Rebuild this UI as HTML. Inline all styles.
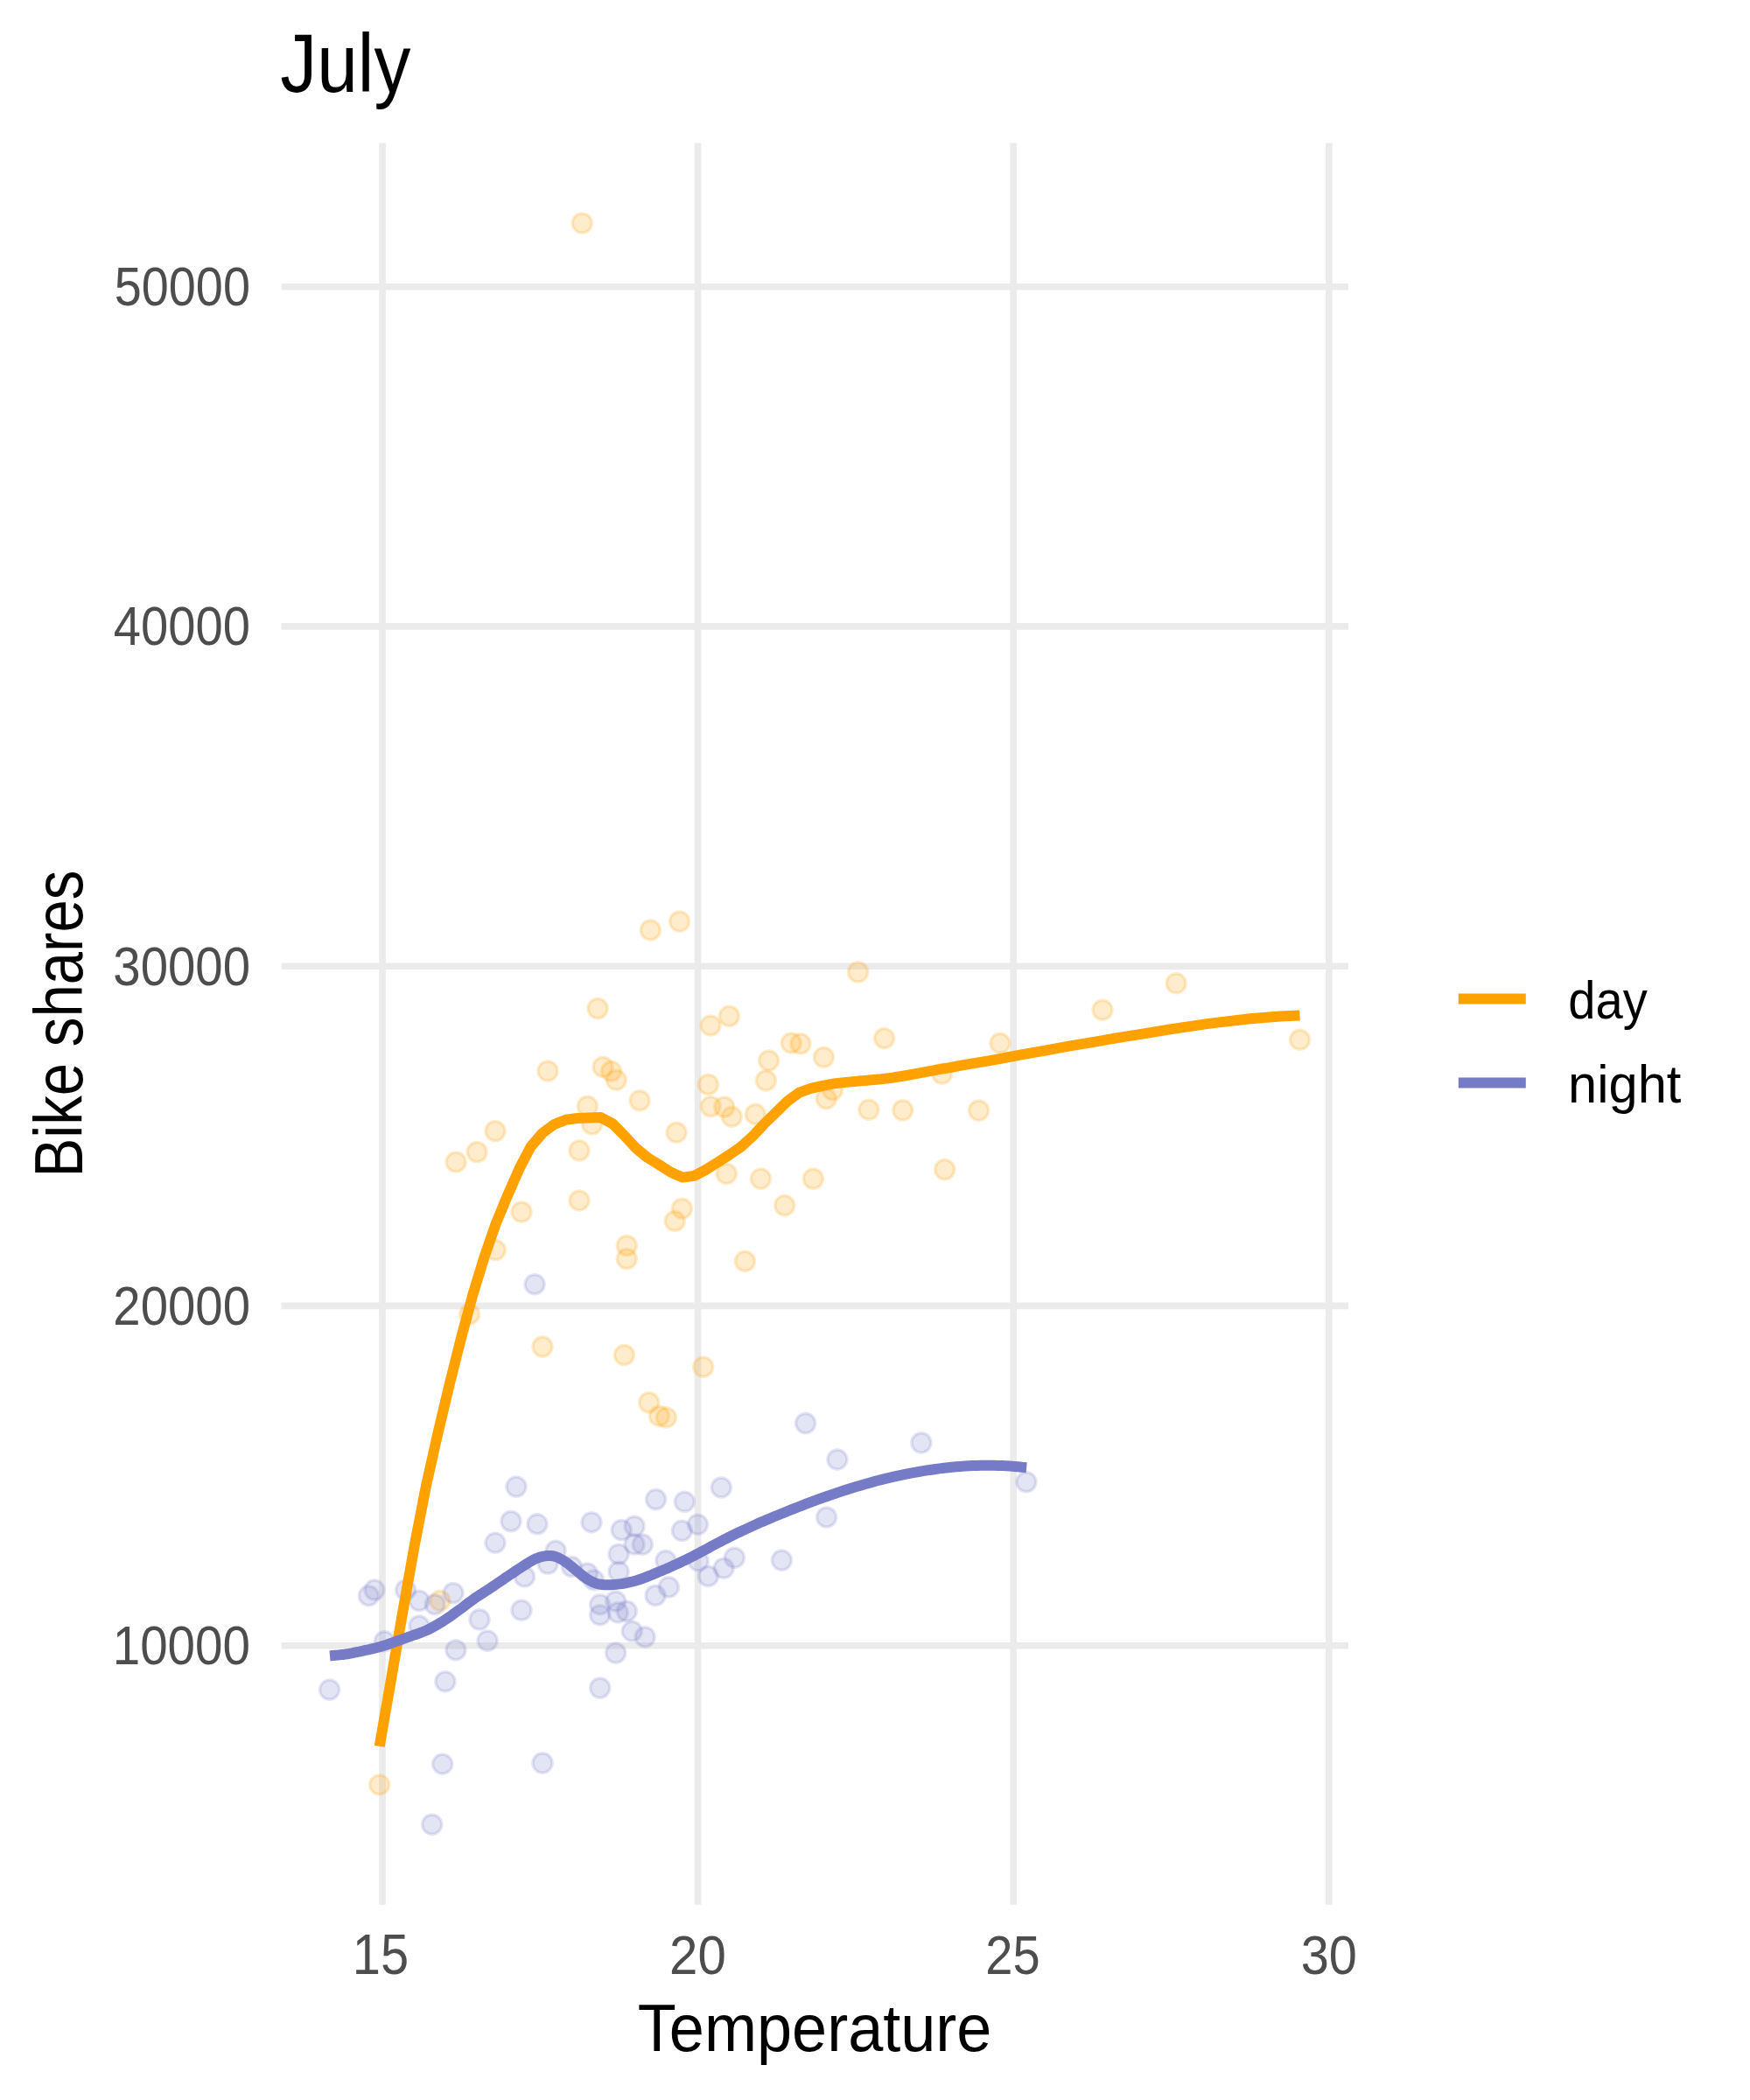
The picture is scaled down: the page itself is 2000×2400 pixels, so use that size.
<!DOCTYPE html>
<html lang="en"><head><meta charset="utf-8"><title>July</title>
<style>html,body{margin:0;padding:0;background:#fff}body{width:2000px;height:2400px;overflow:hidden}svg{display:block}text{font-family:"Liberation Sans",sans-serif}</style></head>
<body>
<svg width="2000" height="2400" viewBox="0 0 2000 2400">
<rect width="2000" height="2400" fill="#fff"/>
<g stroke="#EBEBEB" stroke-width="7.6" fill="none">
<line x1="321.6" x2="1541.0" y1="327.7" y2="327.7"/>
<line x1="321.6" x2="1541.0" y1="715.9" y2="715.9"/>
<line x1="321.6" x2="1541.0" y1="1104.2" y2="1104.2"/>
<line x1="321.6" x2="1541.0" y1="1492.4" y2="1492.4"/>
<line x1="321.6" x2="1541.0" y1="1880.7" y2="1880.7"/>
<line x1="437.0" x2="437.0" y1="163.6" y2="2176.8"/>
<line x1="797.6" x2="797.6" y1="163.6" y2="2176.8"/>
<line x1="1158.2" x2="1158.2" y1="163.6" y2="2176.8"/>
<line x1="1518.8" x2="1518.8" y1="163.6" y2="2176.8"/>
</g>
<g fill="#FFA200" stroke="#FFA200" fill-opacity="0.2" stroke-opacity="0.2" stroke-width="3.5">
<circle cx="743.4" cy="1062.9" r="11.05"/>
<circle cx="776.6" cy="1053.1" r="11.05"/>
<circle cx="683.1" cy="1152.6" r="11.05"/>
<circle cx="812" cy="1172" r="11.05"/>
<circle cx="833.4" cy="1161.4" r="11.05"/>
<circle cx="904.3" cy="1192" r="11.05"/>
<circle cx="626" cy="1224" r="11.05"/>
<circle cx="689.1" cy="1219.4" r="11.05"/>
<circle cx="698.6" cy="1224.3" r="11.05"/>
<circle cx="704.3" cy="1234.3" r="11.05"/>
<circle cx="878.6" cy="1212" r="11.05"/>
<circle cx="875.4" cy="1234.9" r="11.05"/>
<circle cx="809.4" cy="1239.4" r="11.05"/>
<circle cx="731.1" cy="1257.7" r="11.05"/>
<circle cx="671.4" cy="1264.3" r="11.05"/>
<circle cx="812.3" cy="1264.6" r="11.05"/>
<circle cx="827.7" cy="1265.1" r="11.05"/>
<circle cx="836.3" cy="1276.3" r="11.05"/>
<circle cx="863.4" cy="1273.4" r="11.05"/>
<circle cx="676.6" cy="1284.9" r="11.05"/>
<circle cx="566" cy="1292.6" r="11.05"/>
<circle cx="773.1" cy="1294.3" r="11.05"/>
<circle cx="545.1" cy="1316.6" r="11.05"/>
<circle cx="662" cy="1314.9" r="11.05"/>
<circle cx="521.1" cy="1328" r="11.05"/>
<circle cx="830.3" cy="1341.4" r="11.05"/>
<circle cx="869.4" cy="1347.1" r="11.05"/>
<circle cx="662" cy="1372" r="11.05"/>
<circle cx="596" cy="1385.1" r="11.05"/>
<circle cx="779.4" cy="1381.3" r="11.05"/>
<circle cx="771.2" cy="1395.5" r="11.05"/>
<circle cx="896.7" cy="1377.6" r="11.05"/>
<circle cx="566.3" cy="1428.6" r="11.05"/>
<circle cx="716.3" cy="1423.6" r="11.05"/>
<circle cx="716.3" cy="1438.6" r="11.05"/>
<circle cx="536.6" cy="1502" r="11.05"/>
<circle cx="620" cy="1539.1" r="11.05"/>
<circle cx="713.4" cy="1548.6" r="11.05"/>
<circle cx="803.7" cy="1562.2" r="11.05"/>
<circle cx="741.7" cy="1602.9" r="11.05"/>
<circle cx="753.5" cy="1618.3" r="11.05"/>
<circle cx="761.4" cy="1620" r="11.05"/>
<circle cx="502.9" cy="1829.4" r="11.05"/>
<circle cx="433.7" cy="2039.7" r="11.05"/>
<circle cx="980.6" cy="1110.9" r="11.05"/>
<circle cx="1344.2" cy="1123.8" r="11.05"/>
<circle cx="1260" cy="1154.2" r="11.05"/>
<circle cx="1010.6" cy="1186.6" r="11.05"/>
<circle cx="1142.9" cy="1192.3" r="11.05"/>
<circle cx="914.9" cy="1192.9" r="11.05"/>
<circle cx="941.4" cy="1208.3" r="11.05"/>
<circle cx="1076.6" cy="1227.1" r="11.05"/>
<circle cx="951.4" cy="1245.7" r="11.05"/>
<circle cx="944.3" cy="1255.7" r="11.05"/>
<circle cx="992.9" cy="1268.3" r="11.05"/>
<circle cx="1031.7" cy="1268.9" r="11.05"/>
<circle cx="1118.6" cy="1269.1" r="11.05"/>
<circle cx="1079.7" cy="1336.6" r="11.05"/>
<circle cx="929.4" cy="1347.1" r="11.05"/>
<circle cx="851.4" cy="1441.4" r="11.05"/>
<circle cx="1485.5" cy="1188.3" r="11.05"/>
<circle cx="665.3" cy="255" r="11.05"/>
</g>
<g fill="#767BC7" stroke="#767BC7" fill-opacity="0.2" stroke-opacity="0.2" stroke-width="3.5">
<circle cx="611.1" cy="1467.7" r="11.05"/>
<circle cx="590" cy="1699.1" r="11.05"/>
<circle cx="749.6" cy="1713.6" r="11.05"/>
<circle cx="782.4" cy="1716.3" r="11.05"/>
<circle cx="584" cy="1738.6" r="11.05"/>
<circle cx="614" cy="1741.7" r="11.05"/>
<circle cx="676" cy="1739.7" r="11.05"/>
<circle cx="710.3" cy="1748.6" r="11.05"/>
<circle cx="725.1" cy="1744.3" r="11.05"/>
<circle cx="779.4" cy="1749.4" r="11.05"/>
<circle cx="797.5" cy="1742.2" r="11.05"/>
<circle cx="566" cy="1763.2" r="11.05"/>
<circle cx="635.1" cy="1772.3" r="11.05"/>
<circle cx="725.1" cy="1764.9" r="11.05"/>
<circle cx="734.3" cy="1765.1" r="11.05"/>
<circle cx="707.1" cy="1776.2" r="11.05"/>
<circle cx="760.9" cy="1783.5" r="11.05"/>
<circle cx="626.2" cy="1787.1" r="11.05"/>
<circle cx="653.4" cy="1790.5" r="11.05"/>
<circle cx="671.4" cy="1798" r="11.05"/>
<circle cx="707.1" cy="1796.2" r="11.05"/>
<circle cx="798.2" cy="1784" r="11.05"/>
<circle cx="599.5" cy="1802" r="11.05"/>
<circle cx="376.6" cy="1931.1" r="11.05"/>
<circle cx="421.4" cy="1823.7" r="11.05"/>
<circle cx="428" cy="1817.1" r="11.05"/>
<circle cx="463.7" cy="1817.1" r="11.05"/>
<circle cx="479.1" cy="1829.4" r="11.05"/>
<circle cx="497.1" cy="1833.7" r="11.05"/>
<circle cx="518" cy="1820.6" r="11.05"/>
<circle cx="479.1" cy="1858" r="11.05"/>
<circle cx="439.4" cy="1875.7" r="11.05"/>
<circle cx="548" cy="1850.9" r="11.05"/>
<circle cx="557.1" cy="1875.1" r="11.05"/>
<circle cx="520.9" cy="1885.7" r="11.05"/>
<circle cx="508.9" cy="1921.7" r="11.05"/>
<circle cx="596" cy="1840.3" r="11.05"/>
<circle cx="678.6" cy="1805.7" r="11.05"/>
<circle cx="685.7" cy="1833.7" r="11.05"/>
<circle cx="703.7" cy="1830" r="11.05"/>
<circle cx="685.7" cy="1845.7" r="11.05"/>
<circle cx="706.3" cy="1842.9" r="11.05"/>
<circle cx="716.3" cy="1841.4" r="11.05"/>
<circle cx="749.1" cy="1823.4" r="11.05"/>
<circle cx="764.3" cy="1813.9" r="11.05"/>
<circle cx="722.3" cy="1864.3" r="11.05"/>
<circle cx="737.1" cy="1870.9" r="11.05"/>
<circle cx="703.7" cy="1889.1" r="11.05"/>
<circle cx="685.7" cy="1929.1" r="11.05"/>
<circle cx="505.7" cy="2016" r="11.05"/>
<circle cx="620" cy="2014.9" r="11.05"/>
<circle cx="493.7" cy="2085.1" r="11.05"/>
<circle cx="920.6" cy="1626.6" r="11.05"/>
<circle cx="1052.9" cy="1648.9" r="11.05"/>
<circle cx="956.9" cy="1668" r="11.05"/>
<circle cx="1172.9" cy="1693.7" r="11.05"/>
<circle cx="824.3" cy="1700" r="11.05"/>
<circle cx="944.6" cy="1734" r="11.05"/>
<circle cx="839.4" cy="1780.3" r="11.05"/>
<circle cx="893.4" cy="1783.1" r="11.05"/>
<circle cx="827.1" cy="1792.3" r="11.05"/>
<circle cx="809.4" cy="1801.4" r="11.05"/>
</g>
<path d="M433.7 1995.8 L447.0 1919.1 L460.3 1842.0 L473.6 1767.0 L486.9 1698.3 L500.2 1639.0 L513.5 1582.9 L526.8 1530.0 L540.1 1480.5 L553.4 1436.9 L566.7 1398.5 L580.0 1366.4 L593.3 1336.1 L606.6 1310.5 L619.9 1295.0 L633.3 1285.0 L646.6 1279.8 L659.9 1278.0 L673.3 1277.4 L686.6 1277.1 L699.9 1284.1 L713.3 1297.5 L726.6 1312.0 L740.0 1323.0 L753.3 1331.1 L766.7 1339.8 L780.0 1345.6 L793.4 1343.9 L806.7 1336.9 L820.0 1328.5 L833.4 1319.9 L846.7 1310.8 L860.1 1298.6 L873.5 1284.3 L886.8 1271.4 L900.1 1258.4 L913.5 1248.6 L926.8 1243.9 L940.1 1240.8 L953.5 1238.4 L966.8 1236.9 L980.1 1235.6 L993.5 1234.4 L1006.8 1233.3 L1020.1 1231.7 L1033.5 1229.5 L1046.8 1227.1 L1060.1 1224.7 L1073.5 1222.2 L1086.8 1219.8 L1100.1 1217.4 L1135.7 1211.3 L1164.3 1205.9 L1192.9 1200.8 L1221.4 1195.7 L1250.0 1190.8 L1278.6 1185.9 L1307.1 1181.3 L1337.1 1176.4 L1382.9 1169.6 L1428.6 1164.3 L1462.9 1161.5 L1485.5 1160.4" fill="none" stroke="#FFA200" stroke-width="12" stroke-linejoin="round"/>
<path d="M377.0 1892.4 L378.1 1892.3 L379.5 1892.1 L381.3 1892.0 L383.2 1891.8 L385.1 1891.6 L386.8 1891.4 L388.3 1891.3 L389.8 1891.1 L391.2 1891.0 L392.7 1890.9 L394.5 1890.6 L396.6 1890.3 L399.2 1889.8 L402.1 1889.3 L405.2 1888.6 L408.5 1888.0 L411.8 1887.3 L414.9 1886.6 L417.9 1885.9 L421.0 1885.3 L424.0 1884.6 L427.0 1884.0 L430.1 1883.2 L433.1 1882.4 L436.1 1881.5 L439.2 1880.6 L442.2 1879.6 L445.3 1878.5 L448.3 1877.5 L451.4 1876.4 L454.4 1875.3 L457.5 1874.3 L460.5 1873.2 L463.6 1872.0 L466.6 1870.9 L469.7 1869.8 L472.8 1868.7 L475.8 1867.7 L478.9 1866.6 L481.9 1865.5 L484.9 1864.3 L488.0 1863.0 L491.1 1861.5 L494.1 1859.9 L497.1 1858.3 L500.2 1856.5 L503.2 1854.7 L506.3 1852.8 L509.4 1850.8 L512.4 1848.8 L515.5 1846.6 L518.5 1844.4 L521.6 1842.2 L524.6 1840.0 L527.7 1837.8 L530.7 1835.5 L533.8 1833.1 L536.8 1830.8 L539.9 1828.6 L542.9 1826.4 L545.9 1824.3 L549.0 1822.4 L552.0 1820.4 L555.0 1818.5 L558.1 1816.6 L561.1 1814.6 L564.2 1812.5 L567.2 1810.4 L570.3 1808.3 L573.4 1806.2 L576.4 1804.1 L579.4 1802.1 L582.3 1800.1 L585.2 1798.2 L588.1 1796.2 L590.9 1794.3 L593.7 1792.5 L596.5 1790.7 L599.3 1788.9 L602.1 1787.1 L604.9 1785.4 L607.7 1783.8 L610.4 1782.3 L613.1 1781.1 L615.7 1780.1 L618.3 1779.3 L620.8 1778.7 L623.3 1778.3 L625.6 1778.0 L627.8 1777.9 L629.8 1778.0 L631.7 1778.2 L633.5 1778.6 L635.2 1779.2 L636.9 1779.8 L638.7 1780.6 L640.5 1781.5 L642.4 1782.5 L644.2 1783.6 L646.0 1784.9 L647.9 1786.2 L649.7 1787.5 L651.5 1788.9 L653.4 1790.4 L655.2 1792.0 L657.0 1793.6 L658.9 1795.2 L660.7 1796.7 L662.5 1798.2 L664.4 1799.6 L666.2 1801.1 L668.0 1802.4 L669.9 1803.7 L671.7 1804.9 L673.5 1806.0 L675.3 1807.0 L677.0 1807.9 L678.8 1808.7 L680.7 1809.4 L682.6 1810.0 L684.6 1810.5 L686.5 1810.8 L688.5 1811.1 L690.7 1811.2 L692.9 1811.3 L695.4 1811.3 L698.1 1811.2 L701.1 1811.0 L704.2 1810.8 L707.4 1810.4 L710.6 1810.0 L713.7 1809.5 L716.8 1808.9 L719.8 1808.2 L722.9 1807.5 L725.9 1806.7 L729.0 1805.8 L732.0 1804.8 L735.0 1803.8 L737.9 1802.6 L740.9 1801.4 L743.9 1800.2 L746.9 1798.9 L750.0 1797.6 L753.2 1796.3 L756.5 1794.9 L759.9 1793.5 L763.3 1792.1 L766.6 1790.6 L770.0 1789.1 L773.3 1787.6 L776.7 1786.0 L780.0 1784.4 L783.3 1782.8 L786.7 1781.2 L790.0 1779.5 L793.3 1777.8 L796.7 1776.0 L800.0 1774.3 L803.3 1772.5 L806.7 1770.7 L810.0 1768.9 L813.3 1767.1 L816.7 1765.3 L820.0 1763.5 L823.3 1761.8 L826.7 1760.0 L830.0 1758.3 L833.3 1756.6 L836.7 1755.0 L840.0 1753.3 L843.3 1751.7 L846.7 1750.2 L850.0 1748.6 L853.3 1747.1 L856.6 1745.6 L859.8 1744.1 L863.1 1742.6 L866.5 1741.1 L870.0 1739.6 L873.6 1738.1 L877.2 1736.5 L880.9 1734.9 L884.7 1733.3 L888.7 1731.7 L892.9 1730.0 L897.3 1728.2 L902.0 1726.3 L906.8 1724.4 L911.7 1722.5 L916.6 1720.6 L921.4 1718.7 L926.2 1716.9 L930.9 1715.1 L935.7 1713.4 L940.5 1711.6 L945.2 1710.0 L950.0 1708.3 L954.8 1706.7 L959.5 1705.1 L964.3 1703.5 L969.1 1702.0 L973.8 1700.5 L978.6 1699.1 L983.4 1697.7 L988.1 1696.3 L992.9 1694.9 L997.6 1693.6 L1002.3 1692.3 L1007.1 1691.1 L1011.9 1689.9 L1016.6 1688.8 L1021.4 1687.7 L1026.2 1686.6 L1030.9 1685.6 L1035.7 1684.6 L1040.5 1683.7 L1045.2 1682.8 L1050.0 1682.0 L1054.8 1681.2 L1059.5 1680.4 L1064.3 1679.7 L1069.1 1679.0 L1073.8 1678.4 L1078.6 1677.8 L1083.4 1677.2 L1088.1 1676.7 L1092.9 1676.3 L1097.7 1675.9 L1102.4 1675.6 L1107.2 1675.3 L1111.9 1675.1 L1116.6 1674.9 L1121.4 1674.8 L1126.2 1674.7 L1131.1 1674.7 L1136.0 1674.8 L1140.9 1674.9 L1145.5 1675.0 L1150.0 1675.2 L1154.4 1675.5 L1159.0 1675.9 L1163.4 1676.3 L1167.4 1676.7 L1170.7 1677.1 L1173.2 1677.3" fill="none" stroke="#767BC7" stroke-width="12" stroke-linejoin="round"/>
<line x1="1666.8" x2="1743.8" y1="1141.6" y2="1141.6" stroke="#FFA200" stroke-width="12"/>
<line x1="1666.8" x2="1743.8" y1="1237.6" y2="1237.6" stroke="#767BC7" stroke-width="12"/>
<text transform="matrix(0.9107 0 0 1.0217 320.33 105.00)" font-size="92" fill="#000">July</text>
<text transform="matrix(0.9003 0 0 1.0149 130.75 349.29)" font-size="62" fill="#4D4D4D">50000</text>
<text transform="matrix(0.9056 0 0 1.0149 129.84 737.49)" font-size="62" fill="#4D4D4D">40000</text>
<text transform="matrix(0.9087 0 0 1.0149 129.33 1125.79)" font-size="62" fill="#4D4D4D">30000</text>
<text transform="matrix(0.9084 0 0 1.0149 129.37 1513.99)" font-size="62" fill="#4D4D4D">20000</text>
<text transform="matrix(0.9126 0 0 1.0149 128.67 1902.29)" font-size="62" fill="#4D4D4D">10000</text>
<text transform="matrix(0.9333 0 0 1.0326 402.87 2256.08)" font-size="62" fill="#4D4D4D">15</text>
<text transform="matrix(0.9386 0 0 1.0149 765.08 2256.09)" font-size="62" fill="#4D4D4D">20</text>
<text transform="matrix(0.9043 0 0 1.0149 1126.29 2256.09)" font-size="62" fill="#4D4D4D">25</text>
<text transform="matrix(0.9312 0 0 1.0149 1486.67 2256.09)" font-size="62" fill="#4D4D4D">30</text>
<text transform="matrix(0.9363 0 0 0.9971 728.76 2344.35)" font-size="77" fill="#000">Temperature</text>
<text transform="matrix(0.9059 0 0 1.0000 1792.24 1163.80)" font-size="62" fill="#000">day</text>
<text transform="matrix(0.9611 0 0 1.0000 1792.12 1259.80)" font-size="62" fill="#000">night</text>
<text transform="matrix(0 -0.8722 1.0065 0 93.60 1345.45)" font-size="77" fill="#000">Bike shares</text>
</svg></body></html>
